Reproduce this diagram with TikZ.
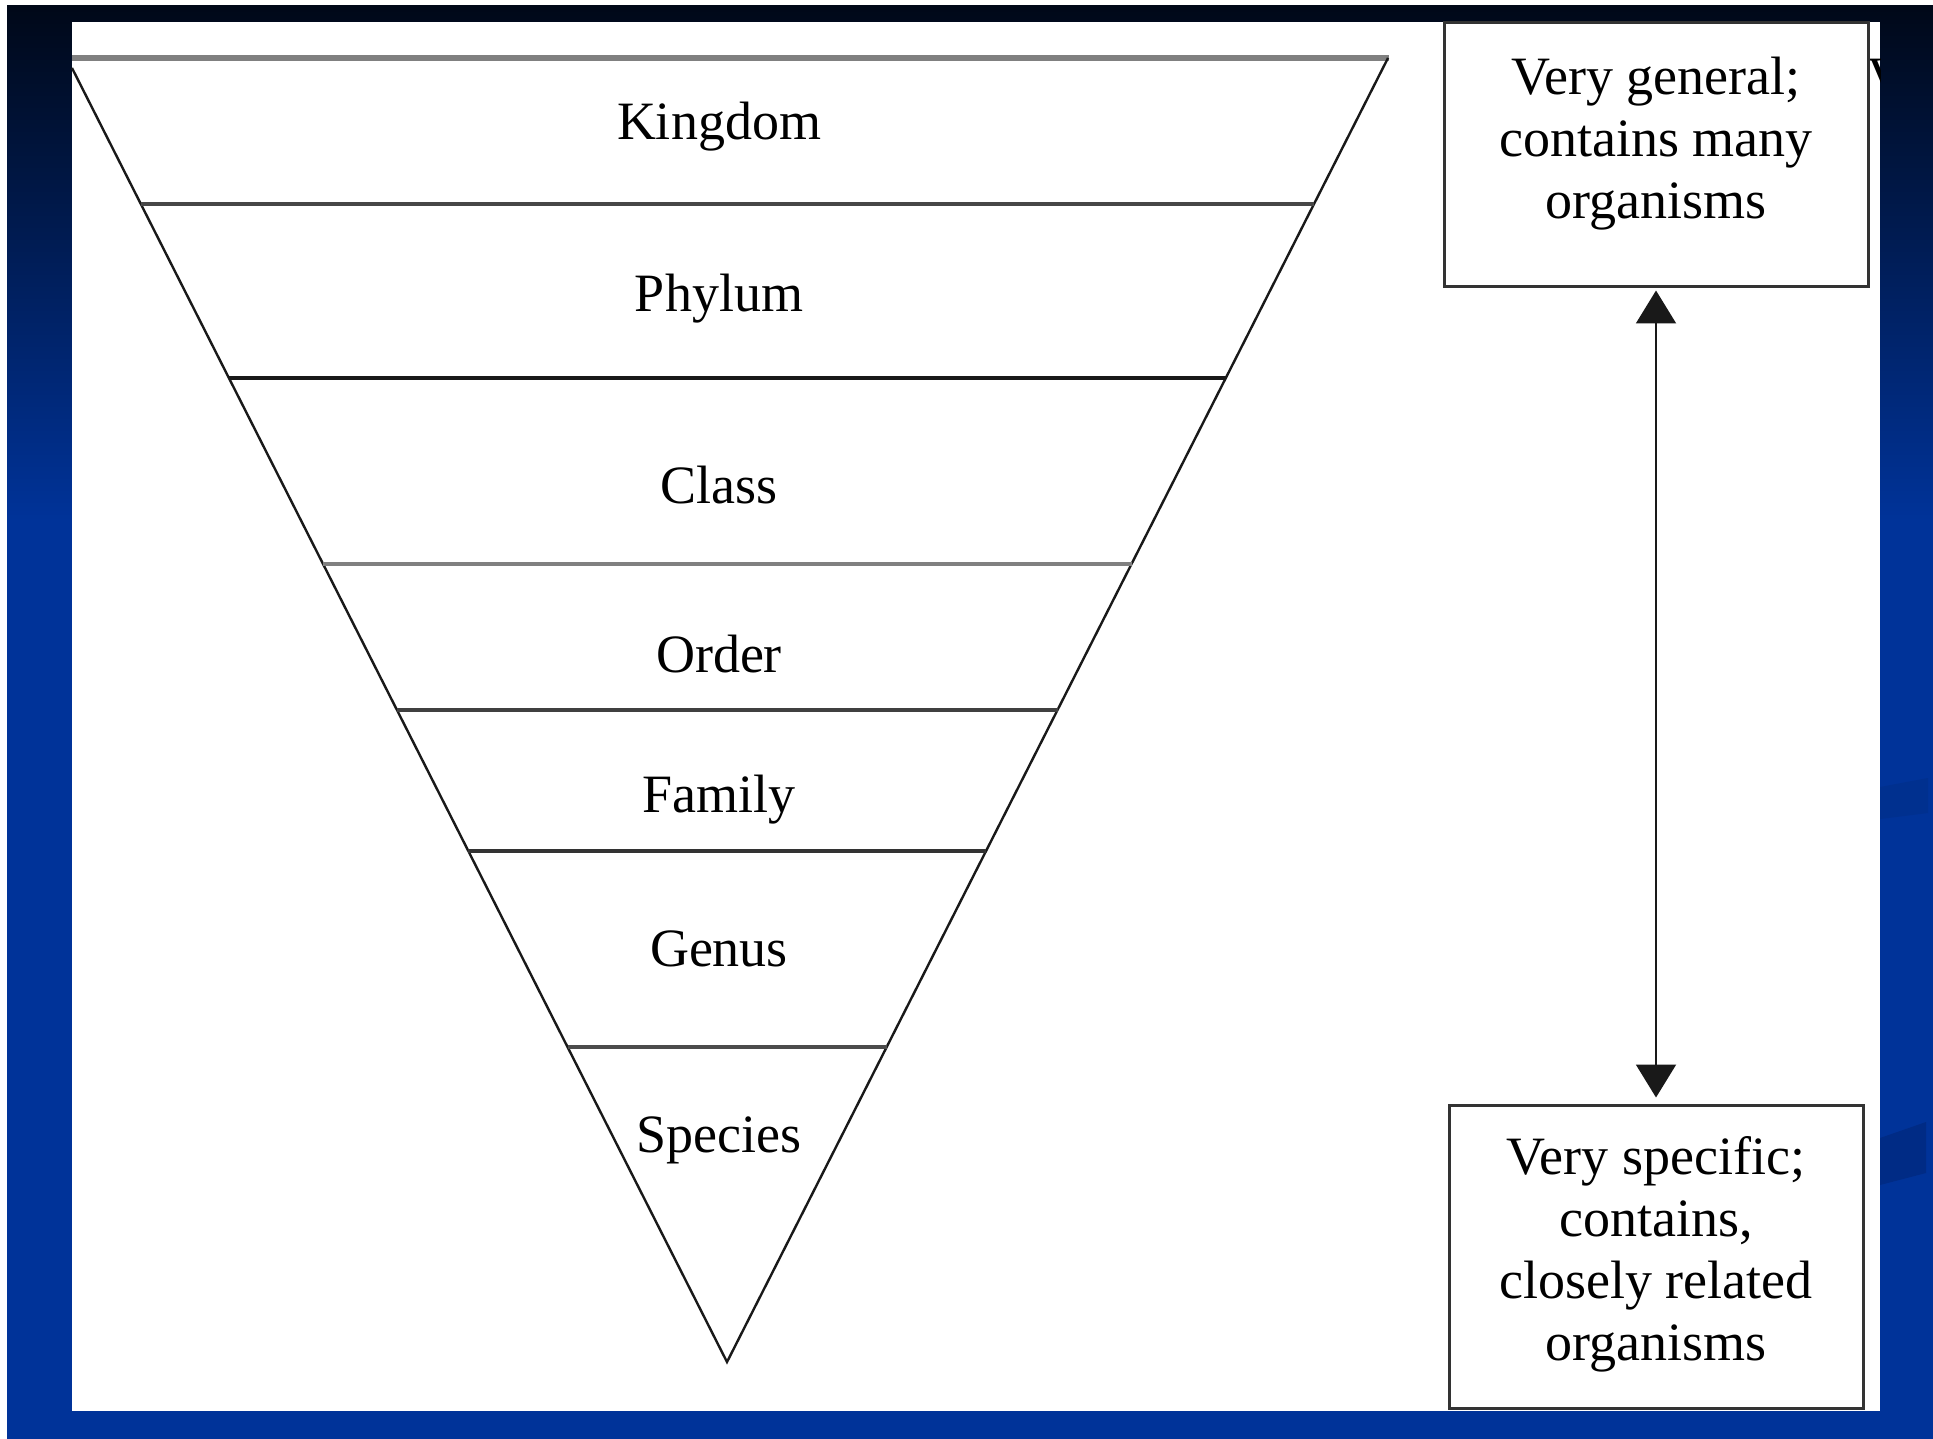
\documentclass[tikz,border=0pt]{standalone}
\usepackage{fontspec}
\setmainfont{Liberation Serif}
\usetikzlibrary{arrows.meta}
\definecolor{bgtop}{HTML}{000818}
\definecolor{bgblue}{HTML}{003399}
\definecolor{wedgeA}{HTML}{00308F}
\definecolor{wedgeB}{HTML}{002B85}
\begin{document}
\begin{tikzpicture}[x=0.5pt,y=-0.5pt,
  lvl/.style={anchor=base, inner sep=0pt, font=\fontsize{27pt}{31pt}\selectfont},
  sepline/.style={line width=1.75pt},
  side/.style={line width=1.2pt, black!90},
  infobox/.style={draw=black!80, line width=1.5pt, fill=white, inner sep=0pt},
  boxtext/.style={align=center, inner sep=0pt, font=\fontsize{27pt}{31pt}\selectfont},
  link/.style={{Triangle[width=20pt,length=16.5pt]}-{Triangle[width=20pt,length=16.5pt]}, line width=1pt, black!90}]
\useasboundingbox (0,0) rectangle (1933,1439);
% background
\fill[white] (0,0) rectangle (1933,1439);
\shade[top color=bgtop, bottom color=bgblue] (7,6) rectangle (1933,520);
\fill[bgblue] (7,519) rectangle (1933,1439);
\fill[wedgeA] (1880,787) -- (1928,778) -- (1928,813) -- (1880,819) -- cycle;
\fill[wedgeB] (1880,1138) -- (1926,1122) -- (1926,1173) -- (1880,1185) -- cycle;
\fill[white] (72,22) rectangle (1880,1411);
% clipped fragment at the top right
\begin{scope}
\clip (1869,22) rectangle (1880,140);
\node[lvl, anchor=base west] (frag) at (1867,95) {V};
\end{scope}
% triangle
\draw[line width=3pt, black!50] (72,58) -- (1389,58);
\draw[side] (72,68) -- (727,1362) -- (1388,58);
\draw[sepline, black!72] (140.8,204) -- (1314.0,204);
\draw[sepline, black!90] (228.9,378) -- (1225.8,378);
\draw[sepline, black!50] (323.1,564) -- (1131.5,564);
\draw[sepline, black!75] (397.0,710) -- (1057.5,710);
\draw[sepline, black!80] (468.3,851) -- (986.0,851);
\draw[sepline, black!70] (567.6,1047) -- (886.7,1047);
% level labels
\node[lvl] (kingdom) at (719,140) {Kingdom};
\node[lvl] (phylum)  at (719,312) {Phylum};
\node[lvl] (class)   at (719,503) {Class};
\node[lvl] (order)   at (719,672) {Order};
\node[lvl] (family)  at (719,812) {Family};
\node[lvl] (genus)   at (719,966) {Genus};
\node[lvl] (species) at (719,1152) {Species};
% side boxes
\node[infobox, minimum width=212pt, minimum height=132pt] (general) at (1656,155) {};
\node[boxtext] (generaltxt) at (1656,144) {Very general;\\contains many\\organisms};
\node[infobox, minimum width=207pt, minimum height=151.5pt] (specific) at (1656,1256.5) {};
\node[boxtext] (specifictxt) at (1656,1254) {Very specific;\\contains,\\closely related\\organisms};
\draw[link, shorten <=1pt, shorten >=3pt] (general.south) -- (specific.north);
\end{tikzpicture}
\end{document}
